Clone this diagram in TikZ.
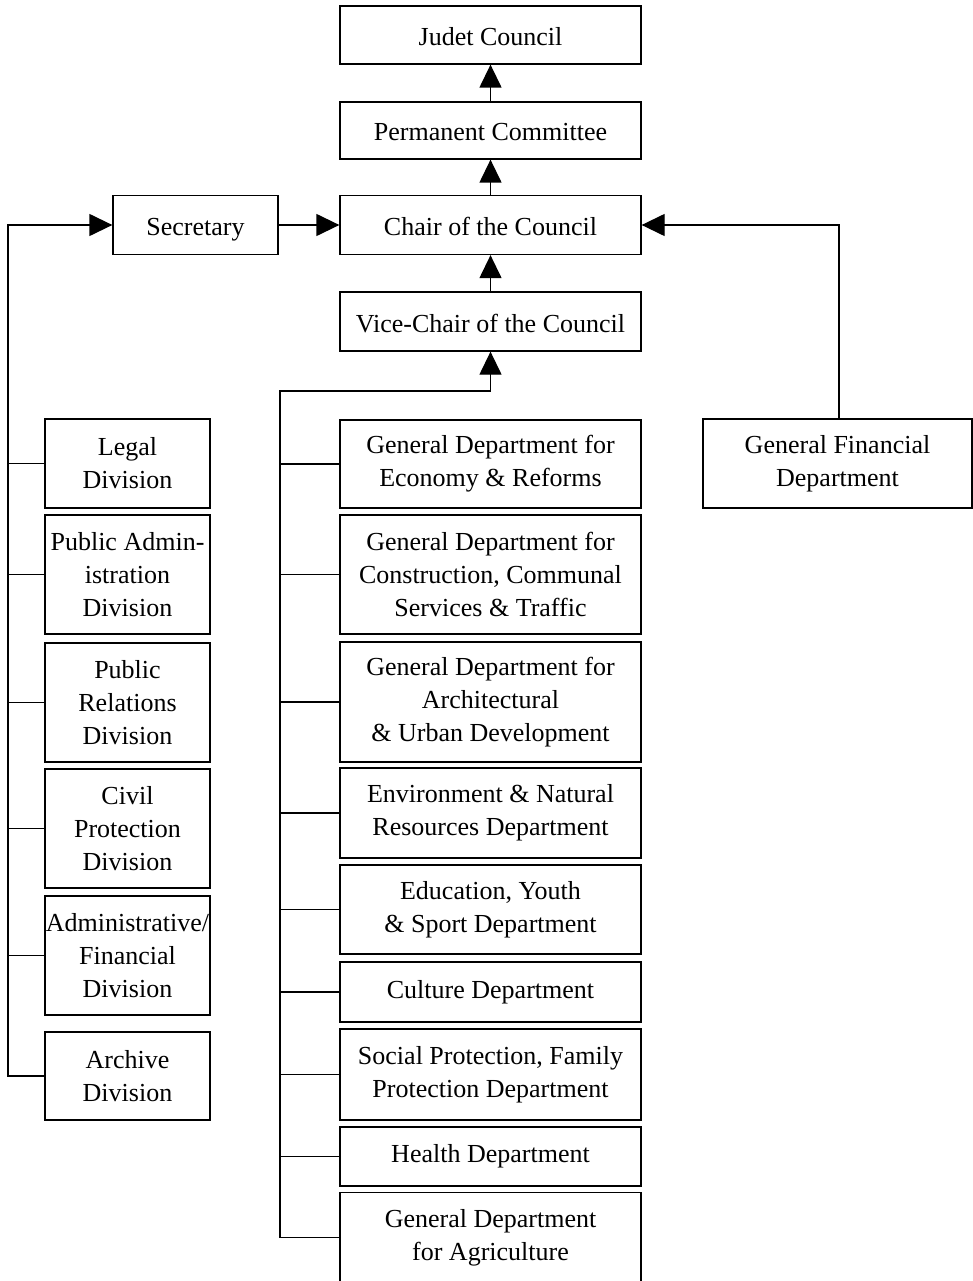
\documentclass[tikz,border=0pt]{standalone}
\usepackage{fontspec}
\setmainfont{Liberation Serif}
\usetikzlibrary{arrows.meta}
\begin{document}
\begin{tikzpicture}[x=1pt,y=-1pt,
  box/.style={draw,line width=1.3pt,rectangle,inner sep=0pt,align=center,
    font=\fontsize{26}{33}\selectfont},
  single/.style={text height=21pt,text depth=0pt},
  wide/.style={box,minimum width=301pt},
  narrow/.style={box,minimum width=165pt},
  link/.style={line width=1.3pt},
  arr/.style={link,-{Triangle[length=23pt,width=22pt]}}]
\useasboundingbox (0,0) rectangle (973,1281);
\clip (0,0) rectangle (973,1281);

% top chain
\node[wide,single,minimum height=58pt] (judet) at (490.5,35) {Judet Council};
\node[wide,single,minimum height=57pt] (perm) at (490.5,130.5) {Permanent Committee};
\node[wide,single,minimum height=59pt] (chair) at (490.5,225) {Chair of the Council};
\node[wide,single,minimum height=59pt] (vice) at (490.5,321.5) {Vice-Chair of the Council};
\node[narrow,single,minimum height=59pt] (sec) at (195.5,225) {Secretary};
\node[box,minimum width=269pt,minimum height=89pt] (gfd) at (837.5,463.5) {General Financial\\Department};

% left column: divisions
\node[narrow,minimum height=89pt] (lLegal) at (127.5,463.5) {Legal\\Division};
\node[narrow,minimum height=119pt] (lPA) at (127.5,574.5) {Public Admin-\\istration\\Division};
\node[narrow,minimum height=119pt] (lPR) at (127.5,702.5) {Public\\Relations\\Division};
\node[narrow,minimum height=119pt] (lCivil) at (127.5,828.5) {Civil\\Protection\\Division};
\node[narrow,minimum height=119pt] (lAF) at (127.5,955.5) {Administrative/\\Financial\\Division};
\node[narrow,minimum height=88pt] (lArch) at (127.5,1076) {Archive\\Division};

% middle column: departments
\node[wide,minimum height=88pt] (mEco) at (490.5,464) {General Department for\\Economy \& Reforms};
\node[wide,minimum height=119pt] (mCon) at (490.5,574.5) {General Department for\\Construction, Communal\\Services \& Traffic};
\node[wide,minimum height=120pt] (mArc) at (490.5,702) {General Department for\\Architectural\\\& Urban Development};
\node[wide,minimum height=90pt] (mEnv) at (490.5,813) {Environment \& Natural\\Resources Department};
\node[wide,minimum height=89pt] (mEdu) at (490.5,909.5) {Education, Youth\\\& Sport Department};
\node[wide,minimum height=60pt] (mCul) at (490.5,992) {Culture Department};
\node[wide,minimum height=91pt] (mSoc) at (490.5,1074.5) {Social Protection, Family\\Protection Department};
\node[wide,minimum height=59pt] (mHea) at (490.5,1156.5) {Health Department};
\node[wide,minimum height=90pt] (mAgr) at (490.5,1237.5) {General Department\\for Agriculture};

% trunk corners
\coordinate (lcorner) at (8,225);
\coordinate (mcorner) at (280,391);

% chain of command
\draw[arr] (perm) -- (judet);
\draw[arr] (chair) -- (perm);
\draw[arr] (vice) -- (chair);
\draw[arr] (sec) -- (chair);
\draw[arr] (gfd.north -| 839,0) |- (chair.east);

% left trunk
\draw[arr] (lArch.west) -| (lcorner) -- (sec.west);
\foreach \n in {lLegal,lPA,lPR,lCivil,lAF}
  \draw[link] (\n.west) -- (\n.west -| lcorner);

% middle trunk
\draw[arr] (mAgr.west) -| (mcorner) -| (vice.south);
\foreach \n in {mEco,mCon,mArc,mEnv,mEdu,mCul,mSoc,mHea}
  \draw[link] (\n.west) -- (\n.west -| mcorner);
\end{tikzpicture}
\end{document}
